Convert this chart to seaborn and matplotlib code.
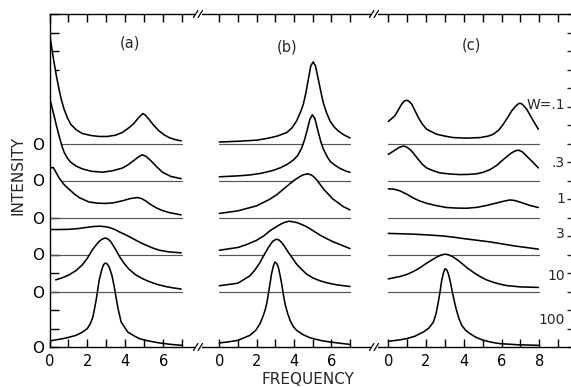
import numpy as np
import matplotlib
matplotlib.use("Agg")
import matplotlib.pyplot as plt
import seaborn as sns
from matplotlib.lines import Line2D
from matplotlib.patches import Rectangle

# ---------------- data: frequency / intensity above each curve's own zero line ----------------
# panel (a)
a_w01_x = [0, 0.12, 0.24, 0.37, 0.5, 0.63, 0.77, 0.95, 1.12, 1.4, 1.73, 2.2, 2.61, 3.05, 3.49,
           3.85, 4.2, 4.45, 4.63, 4.8, 4.93, 5.07, 5.25, 5.5, 5.78, 6.05, 6.31, 6.6, 6.95]
a_w01 = [5.95, 5.15, 4.38, 3.62, 2.94, 2.35, 1.85, 1.38, 1.04, 0.75, 0.54, 0.43, 0.38, 0.38, 0.45,
         0.6, 0.86, 1.08, 1.31, 1.5, 1.62, 1.52, 1.31, 0.98, 0.68, 0.47, 0.32, 0.22, 0.14]
a_w03_x = [0, 0.12, 0.24, 0.37, 0.5, 0.63, 0.77, 0.95, 1.12, 1.4, 1.73, 2.2, 2.79, 3.3, 3.84,
           4.15, 4.45, 4.7, 4.9, 5.1, 5.34, 5.65, 5.96, 6.4, 6.95]
a_w03 = [4.5, 4.0, 3.51, 2.95, 2.43, 1.95, 1.53, 1.2, 0.99, 0.78, 0.63, 0.5, 0.45, 0.52, 0.67,
         0.85, 1.08, 1.28, 1.39, 1.3, 1.08, 0.75, 0.45, 0.22, 0.1]
a_w1_x = [0, 0.2, 0.5, 0.75, 1.03, 1.3, 1.56, 2.08, 2.5, 2.96, 3.4, 3.84, 4.25, 4.63, 4.85, 5.07,
          5.3, 5.6, 5.95, 6.31, 6.95]
a_w1 = [2.68, 2.7, 2.15, 1.8, 1.53, 1.28, 1.08, 0.84, 0.78, 0.76, 0.8, 0.9, 1.02, 1.08, 1.03, 0.9,
        0.73, 0.54, 0.38, 0.27, 0.14]
a_w3_x = [0, 0.5, 1.0, 1.5, 1.92, 2.3, 2.63, 2.9, 3.16, 3.45, 3.69, 4.05, 4.4, 4.75, 5.1, 5.45,
          5.8, 6.3, 6.95]
a_w3 = [1.35, 1.35, 1.36, 1.4, 1.46, 1.51, 1.53, 1.51, 1.46, 1.35, 1.22, 1.05, 0.86, 0.67, 0.5,
        0.35, 0.23, 0.14, 0.09]
a_w10_x = [0.33, 0.7, 1.03, 1.4, 1.73, 2.0, 2.26, 2.45, 2.61, 2.78, 2.93, 3.08, 3.23, 3.5, 3.7,
           3.93, 4.2, 4.55, 4.9, 5.25, 5.7, 6.13, 6.5, 6.95]
a_w10 = [0.63, 0.75, 0.9, 1.13, 1.44, 1.8, 2.25, 2.5, 2.7, 2.83, 2.89, 2.84, 2.7, 2.25, 1.88,
         1.53, 1.2, 0.9, 0.7, 0.54, 0.38, 0.27, 0.2, 0.13]
a_w100_x = [0, 0.3, 0.7, 1.0, 1.4, 1.7, 2.0, 2.15, 2.29, 2.46, 2.62, 2.75, 2.85, 2.95, 3.05, 3.15,
            3.3, 3.42, 3.6, 3.78, 4.13, 4.5, 4.75, 5.2, 5.8, 6.4, 7]
a_w100 = [0.32, 0.38, 0.45, 0.52, 0.63, 0.78, 1.0, 1.25, 1.62, 2.52, 3.6, 4.15, 4.45, 4.54, 4.48,
          4.32, 3.85, 3.24, 2.16, 1.35, 0.81, 0.58, 0.45, 0.33, 0.22, 0.14, 0.09]

# panel (b)
b_w01_x = [0, 1, 2, 2.54, 3.1, 3.61, 3.9, 4.14, 4.35, 4.5, 4.65, 4.77, 4.9, 5.03, 5.15, 5.3,
           5.45, 5.57, 5.75, 5.93, 6.15, 6.37, 6.65, 7]
b_w01 = [0.08, 0.12, 0.18, 0.27, 0.4, 0.59, 0.85, 1.22, 1.7, 2.12, 2.8, 3.48, 4.2, 4.41, 4.2,
         3.48, 2.75, 2.2, 1.65, 1.22, 0.9, 0.68, 0.48, 0.3]
b_w03_x = [0, 1, 1.64, 2.3, 2.9, 3.3, 3.65, 3.96, 4.2, 4.41, 4.55, 4.68, 4.85, 4.98, 5.12, 5.3,
           5.45, 5.57, 5.8, 5.95, 6.2, 6.46, 6.75, 7]
b_w03 = [0.2, 0.25, 0.3, 0.4, 0.55, 0.7, 0.88, 1.1, 1.35, 1.75, 2.15, 2.62, 3.3, 3.55, 3.35,
         2.62, 2.05, 1.71, 1.25, 1.02, 0.82, 0.66, 0.52, 0.44]
b_w1_x = [0, 1, 2, 2.71, 3.1, 3.43, 3.75, 4.05, 4.3, 4.5, 4.73, 4.9, 5.04, 5.2, 5.39, 5.6, 5.84,
          6.05, 6.29, 6.64, 7]
b_w1 = [0.22, 0.36, 0.63, 0.99, 1.25, 1.53, 1.8, 2.04, 2.2, 2.31, 2.36, 2.31, 2.22, 2.05, 1.8,
        1.52, 1.26, 1.03, 0.85, 0.59, 0.41]
b_w3_x = [0, 1, 1.5, 2, 2.4, 2.71, 3.0, 3.25, 3.5, 3.75, 4.14, 4.4, 4.68, 5.0, 5.39, 5.75, 6.11,
          6.64, 7]
b_w3 = [0.23, 0.38, 0.55, 0.77, 1.02, 1.28, 1.47, 1.62, 1.74, 1.8, 1.73, 1.63, 1.5, 1.3, 1.05,
        0.86, 0.68, 0.47, 0.32]
b_w10_x = [0, 1, 1.64, 1.9, 2.18, 2.4, 2.63, 2.78, 2.89, 3.07, 3.2, 3.34, 3.52, 3.7, 3.92, 4.14,
           4.4, 4.68, 5.0, 5.39, 5.8, 6.29, 7]
b_w10 = [0.31, 0.45, 0.85, 1.15, 1.57, 1.98, 2.38, 2.6, 2.74, 2.83, 2.78, 2.65, 2.4, 2.11, 1.8,
         1.48, 1.2, 0.94, 0.74, 0.58, 0.46, 0.36, 0.27]
b_w100_x = [0, 0.5, 1, 1.64, 1.95, 2.18, 2.32, 2.45, 2.55, 2.63, 2.72, 2.8, 2.9, 2.98, 3.07,
            3.16, 3.25, 3.34, 3.43, 3.52, 3.65, 3.79, 3.95, 4.14, 4.5, 4.86, 5.4, 5.93, 6.5, 7]
b_w100 = [0.22, 0.28, 0.36, 0.63, 0.9, 1.26, 1.6, 1.98, 2.4, 2.88, 3.45, 3.96, 4.4, 4.59, 4.52,
          4.32, 3.9, 3.42, 2.85, 2.34, 1.85, 1.44, 1.12, 0.9, 0.66, 0.5, 0.36, 0.27, 0.2, 0.14]

# panel (c)
c_w01_x = [0, 0.35, 0.55, 0.71, 0.85, 0.97, 1.1, 1.24, 1.4, 1.59, 1.8, 2.03, 2.56, 3.0, 3.45,
           4.15, 4.86, 5.3, 5.56, 5.85, 6.1, 6.35, 6.54, 6.75, 6.9, 6.98, 7.1, 7.33, 7.5, 7.68,
           7.95]
c_w01 = [1.19, 1.5, 1.85, 2.13, 2.3, 2.34, 2.28, 2.13, 1.8, 1.41, 1.05, 0.77, 0.5, 0.4, 0.32,
         0.29, 0.32, 0.4, 0.5, 0.72, 1.05, 1.45, 1.77, 2.02, 2.15, 2.18, 2.12, 1.86, 1.55, 1.23,
         0.77]
c_w03_x = [0, 0.35, 0.6, 0.8, 0.95, 1.15, 1.35, 1.59, 1.8, 2.03, 2.4, 2.74, 3.3, 3.8, 4.25, 4.68,
           5.05, 5.39, 5.75, 6.1, 6.35, 6.54, 6.72, 6.9, 7.1, 7.33, 7.6, 7.95]
c_w03 = [1.41, 1.64, 1.8, 1.86, 1.82, 1.68, 1.45, 1.14, 0.88, 0.68, 0.52, 0.41, 0.35, 0.32,
         0.33, 0.36, 0.45, 0.59, 0.82, 1.14, 1.35, 1.5, 1.6, 1.64, 1.55, 1.32, 1.05, 0.68]
c_w1_x = [0, 0.3, 0.62, 1.0, 1.33, 1.65, 2.03, 2.5, 3.09, 3.6, 4.15, 4.7, 5.21, 5.6, 5.92, 6.2,
          6.45, 6.7, 6.98, 7.25, 7.51, 7.95]
c_w1 = [1.55, 1.53, 1.44, 1.25, 1.05, 0.9, 0.77, 0.65, 0.54, 0.51, 0.5, 0.55, 0.65, 0.75, 0.83,
        0.9, 0.95, 0.92, 0.83, 0.74, 0.65, 0.54]
c_w3_x = [0, 1.33, 2.2, 2.92, 3.5, 3.98, 4.7, 5.39, 6.0, 6.63, 7.3, 7.95]
c_w3 = [1.14, 1.1, 1.05, 1.0, 0.93, 0.86, 0.77, 0.68, 0.58, 0.47, 0.38, 0.29]
c_w10_x = [0, 0.62, 1.0, 1.33, 1.7, 2.03, 2.3, 2.56, 2.8, 3.0, 3.2, 3.45, 3.8, 4.15, 4.5, 4.86,
           5.2, 5.56, 5.9, 6.27, 6.98, 7.95]
c_w10 = [0.68, 0.81, 0.93, 1.08, 1.3, 1.53, 1.7, 1.86, 1.97, 2.02, 1.98, 1.86, 1.6, 1.3, 1.04,
         0.81, 0.63, 0.5, 0.4, 0.32, 0.25, 0.22]
c_w100_x = [0, 0.5, 0.97, 1.4, 1.86, 2.15, 2.39, 2.53, 2.65, 2.75, 2.83, 2.92, 3.0, 3.09, 3.18,
            3.27, 3.36, 3.47, 3.59, 3.74, 3.89, 4.1, 4.33, 4.65, 5.04, 5.5, 5.92, 6.9, 7.95]
c_w100 = [0.31, 0.37, 0.45, 0.58, 0.81, 1.02, 1.35, 1.8, 2.43, 3.05, 3.6, 4.0, 4.23, 4.18, 3.96,
          3.6, 3.15, 2.6, 2.07, 1.55, 1.17, 0.9, 0.72, 0.52, 0.36, 0.25, 0.18, 0.12, 0.09]

W_LABELS = ["W=.1", ".3", "1", "3", "10", "100"]
ZERO_LEVELS = [11, 9, 7, 5, 3, 0]          # zero line of each W curve
W_LABEL_Y = [13.08, 9.95, 8.0, 6.1, 3.84, 1.46]
PANEL_NAMES = ["(a)", "(b)", "(c)"]
X_TICKLABELS_AB = ["0", "", "2", "", "4", "", "6", ""]
X_TICKLABELS_C = ["0", "", "2", "", "4", "", "6", "", "8", ""]

# ---------------- figure ----------------
sns.set_theme(style="ticks")
plt.rcParams["font.family"] = ["DejaVu Sans"]
plt.rcParams["axes.linewidth"] = 1.0

FW, FH = 571, 387
fig = plt.figure(figsize=(FW / 100, FH / 100), dpi=100)
fig.patch.set_facecolor("white")


def fx(px):
    return px / FW


def fy(py):
    return 1 - py / FH


TOP, BOT = 14, 347

# panel geometry in pixels: (left, right, pixel of data x=0, px per unit)
geo = [(49.5, 198, 49.5, 18.95), (198, 374, 219.3, 18.67), (374, 572, 388.3, 18.875)]
axes = []
for (l, r, x0, u) in geo:
    ax = fig.add_axes([fx(l), fy(BOT), (r - l) / FW, (BOT - TOP) / FH])
    ax.set_xlim((l - x0) / u, (r - x0) / u)
    ax.set_ylim(0, 18)
    ax.set_facecolor("white")
    axes.append(ax)

panels = [
    [(a_w01_x, a_w01), (a_w03_x, a_w03), (a_w1_x, a_w1), (a_w3_x, a_w3),
     (a_w10_x, a_w10), (a_w100_x, a_w100)],
    [(b_w01_x, b_w01), (b_w03_x, b_w03), (b_w1_x, b_w1), (b_w3_x, b_w3),
     (b_w10_x, b_w10), (b_w100_x, b_w100)],
    [(c_w01_x, c_w01), (c_w03_x, c_w03), (c_w1_x, c_w1), (c_w3_x, c_w3),
     (c_w10_x, c_w10), (c_w100_x, c_w100)],
]
x_ends = [7, 7, 8]

for k, ax in enumerate(axes):
    for (xs, ys), z in zip(panels[k], ZERO_LEVELS):
        xs = np.asarray(xs, float)
        yy = np.asarray(ys, float) + z
        if z > 0:
            ax.plot([0, x_ends[k]], [z, z], color="#555555", lw=0.85, zorder=1)
            # the curve hides the zero line of the curve above where it crosses it
            ax.fill_between(xs, z + 0.12, yy, where=yy > z + 0.12, color="white",
                            lw=0, zorder=2)
        sns.lineplot(x=xs, y=yy, ax=ax, color="black", linewidth=1.15,
                     sort=False, estimator=None, zorder=3)
    for s in ["left", "right"]:
        ax.spines[s].set_visible(False)
    for s in ["top", "bottom"]:
        ax.spines[s].set_visible(True)
        ax.spines[s].set_color("black")
    nt = 8 if k < 2 else 10
    ax.set_xticks(range(nt))
    ax.set_xticklabels(X_TICKLABELS_AB if k < 2 else X_TICKLABELS_C)
    ax.tick_params(axis="x", which="both", direction="in", length=5.8, width=1.0,
                   top=True, bottom=True, labelsize=10.5, pad=5, colors="black")
    ax.set_yticks([])
    ax.set_xlabel("")
    ax.set_ylabel("")
    ax.text(*([4.27, 16.43], [3.63, 16.2], [4.43, 16.3])[k], PANEL_NAMES[k],
            ha="center", va="center", fontsize=10.5)

# left axis (panel a)
axa = axes[0]
axa.spines["left"].set_visible(True)
axa.spines["left"].set_color("black")
axa.set_yticks(range(19))
axa.set_yticklabels(["O" if v in ZERO_LEVELS else "" for v in range(19)])
axa.tick_params(axis="y", direction="in", length=6.5, width=1.0, left=True,
                labelsize=11, pad=4, colors="black")

# right axis (panel c)
axc = axes[2]
axc.yaxis.tick_right()
axc.set_yticks(range(19))
axc.set_yticklabels([""] * 19)
axc.tick_params(axis="y", direction="in", length=3.5, width=1.0, right=True, left=False)
for lab, yy in zip(W_LABELS, W_LABEL_Y):
    axc.text(9.36, yy, lab, ha="right", va="center", fontsize=10)


# axis break marks
def brk(px, py):
    fig.add_artist(Rectangle((fx(px - 3.5), fy(py + 1.5)), 7 / FW, 3 / FH,
                             transform=fig.transFigure, facecolor="white",
                             edgecolor="none", zorder=10))
    for dx in (-2.3, 2.3):
        fig.add_artist(Line2D([fx(px + dx - 2.2), fx(px + dx + 2.2)],
                              [fy(py + 3.5), fy(py - 3.5)],
                              transform=fig.transFigure, color="black", lw=0.9,
                              zorder=11))


for bx in (198, 374):
    brk(bx, TOP)
    brk(bx, BOT)

fig.text(fx(18), fy(175), "INTENSITY", rotation=90, ha="center", va="center",
         fontsize=11)
fig.text(fx(308), fy(380), "FREQUENCY", ha="center", va="center", fontsize=11)

fig.savefig("out.png", dpi=100, facecolor="white")
